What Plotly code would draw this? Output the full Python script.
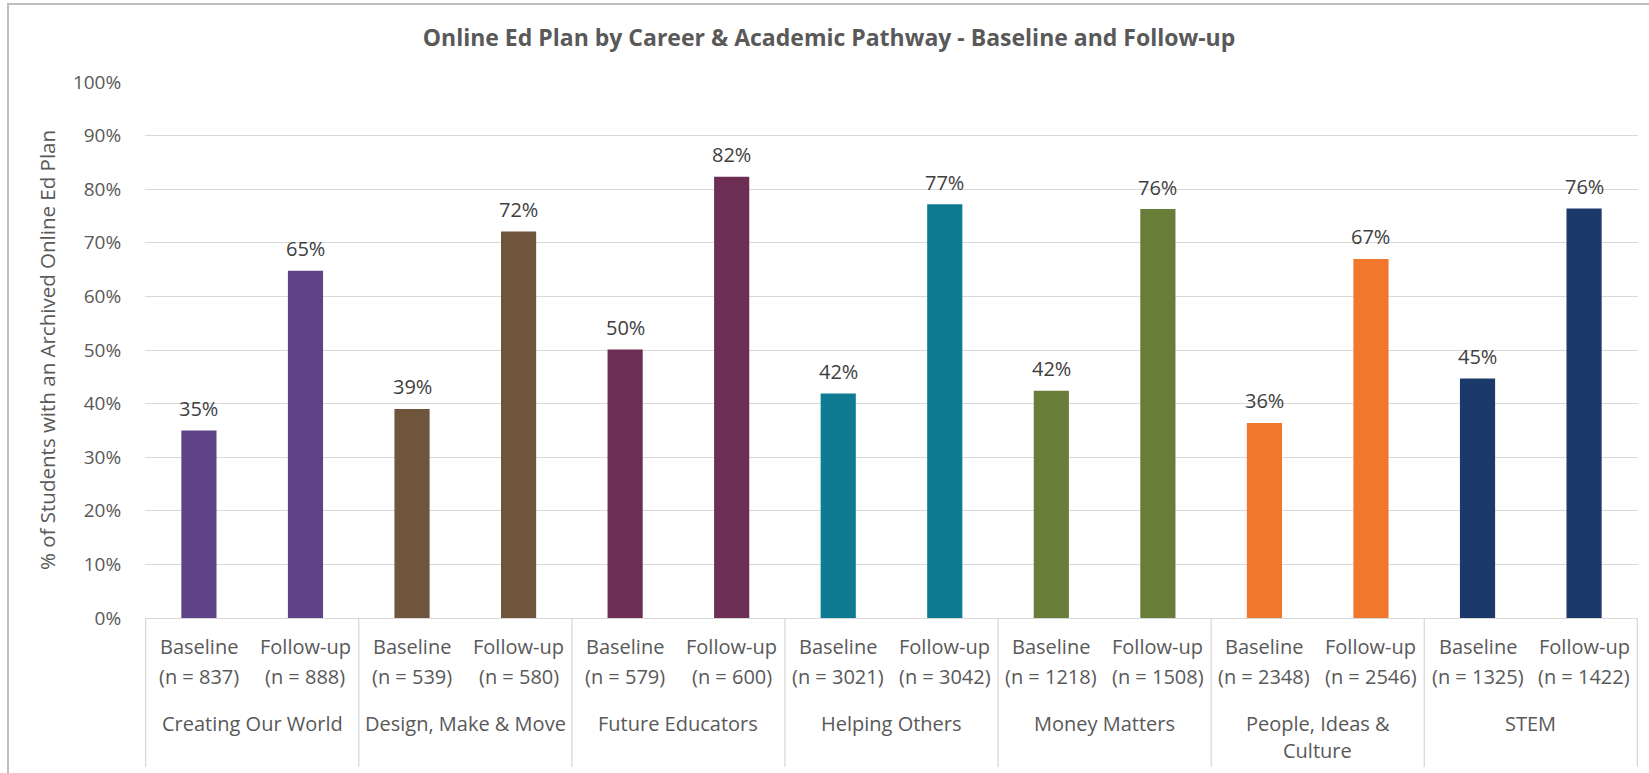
import plotly.graph_objects as go

# ---- data -------------------------------------------------------------
pathways = [
    "Creating Our World",
    "Design, Make & Move",
    "Future Educators",
    "Helping Others",
    "Money Matters",
    "People, Ideas & Culture",
    "STEM",
]
# how each pathway name wraps under the axis
pathway_lines = [
    ["Creating Our World"],
    ["Design, Make & Move"],
    ["Future Educators"],
    ["Helping Others"],
    ["Money Matters"],
    ["People, Ideas &", "Culture"],
    ["STEM"],
]
phases = ["Baseline", "Follow-up"]
baseline_n = [837, 539, 579, 3021, 1218, 2348, 1325]
followup_n = [888, 580, 600, 3042, 1508, 2546, 1422]
baseline_pct = [0.350, 0.390, 0.501, 0.419, 0.424, 0.364, 0.447]
followup_pct = [0.648, 0.721, 0.823, 0.772, 0.763, 0.670, 0.764]
pathway_colors = ["#5F4388", "#6F553B", "#6D2E53", "#0E7B93", "#687D38", "#F0782C", "#1B3A69"]

title_text = "Online Ed Plan by Career & Academic Pathway - Baseline and Follow-up"
y_title = "% of Students with an Archived Online Ed Plan"
y_ticks = [0, 0.1, 0.2, 0.3, 0.4, 0.5, 0.6, 0.7, 0.8, 0.9, 1.0]

# ---- page geometry ----------------------------------------------------
W, H = 1649, 773
ML, MR, MT, MB = 145, 11, 82, 155
PLOT_W = W - ML - MR
PLOT_H = H - MT - MB
AXIS_Y = MT + PLOT_H


def paper_y(px):
    return (AXIS_Y - px) / PLOT_H


def paper_x(px):
    return (px - ML) / PLOT_W


FONT = "Open Sans"
GREY = "#595959"
DARK = "#404040"
GRID = "#D9D9D9"
LABEL_SIZE = 20

# one bar per pathway/phase, in reading order
keys, values, colors, subl1, subl2 = [], [], [], [], []
for i, p in enumerate(pathways):
    for phase, n, v in ((phases[0], baseline_n[i], baseline_pct[i]),
                        (phases[1], followup_n[i], followup_pct[i])):
        keys.append(f"{p} | {phase}")
        values.append(v)
        colors.append(pathway_colors[i])
        subl1.append(phase)
        subl2.append(f"(n = {n})")

fig = go.Figure(
    go.Bar(
        x=keys,
        y=values,
        marker=dict(color=colors, line=dict(width=0)),
        hovertemplate="%{x}: %{y:.0%}<extra></extra>",
    )
)

annotations = []
# value labels above each bar
for k, v in zip(keys, values):
    annotations.append(dict(
        x=k, y=v, xref="x", yref="y", text=f"{v:.0%}", showarrow=False,
        yanchor="middle", yshift=22, font=dict(family=FONT, size=LABEL_SIZE, color=DARK),
    ))
# two-line phase labels under each bar
for k, a, b in zip(keys, subl1, subl2):
    for txt, row in ((a, 646), (b, 676)):
        annotations.append(dict(
            x=k, y=paper_y(row), xref="x", yref="paper", text=txt, showarrow=False,
            yanchor="middle", font=dict(family=FONT, size=LABEL_SIZE, color=GREY),
        ))
# pathway names centred under each pair
for i, lines in enumerate(pathway_lines):
    for j, txt in enumerate(lines):
        annotations.append(dict(
            x=2 * i + 0.5, y=paper_y(723 + 27 * j), xref="x", yref="paper", text=txt,
            showarrow=False, yanchor="middle", font=dict(family=FONT, size=LABEL_SIZE, color=GREY),
        ))
# y axis title
annotations.append(dict(
    x=paper_x(47), y=0.5, xref="paper", yref="paper", text=y_title, textangle=-90,
    showarrow=False, xanchor="center", yanchor="middle",
    font=dict(family=FONT, size=20.5, color=GREY),
))

shapes = []
# group dividers below the axis
for i in range(len(pathways) + 1):
    shapes.append(dict(
        type="line", xref="x", yref="paper", x0=2 * i - 0.5, x1=2 * i - 0.5,
        y0=0, y1=paper_y(767), line=dict(color=GRID, width=1.3),
    ))
# chart frame
shapes.append(dict(
    type="rect", xref="paper", yref="paper", x0=paper_x(8), x1=paper_x(W + 10),
    y0=paper_y(H + 10), y1=paper_y(4), line=dict(color="#BFBFBF", width=2),
    fillcolor="rgba(0,0,0,0)", layer="below",
))

fig.update_layout(
    width=W,
    height=H,
    margin=dict(l=ML, r=MR, t=MT, b=MB, pad=0),
    paper_bgcolor="white",
    plot_bgcolor="white",
    showlegend=False,
    bargap=0.67,
    title=dict(
        text=f"<b>{title_text}</b>", x=829 / W, xref="container", xanchor="center",
        y=1 - 38 / H, yref="container", yanchor="middle",
        font=dict(family=FONT, size=23, color=GREY),
    ),
    xaxis=dict(
        type="category", showticklabels=False, showgrid=False, zeroline=False,
        showline=True, linecolor=GRID, linewidth=1.3, ticks="", fixedrange=True,
    ),
    yaxis=dict(
        range=[0, 1], tickvals=y_ticks, tickformat=".0%", showgrid=True,
        gridcolor=GRID, gridwidth=1.3, zeroline=False, showline=False,
        ticks="outside", ticklen=19, tickcolor="rgba(0,0,0,0)",
        tickfont=dict(family=FONT, size=19, color=GREY),
    ),
    annotations=annotations,
    shapes=shapes,
)

fig.write_html("out.html")
